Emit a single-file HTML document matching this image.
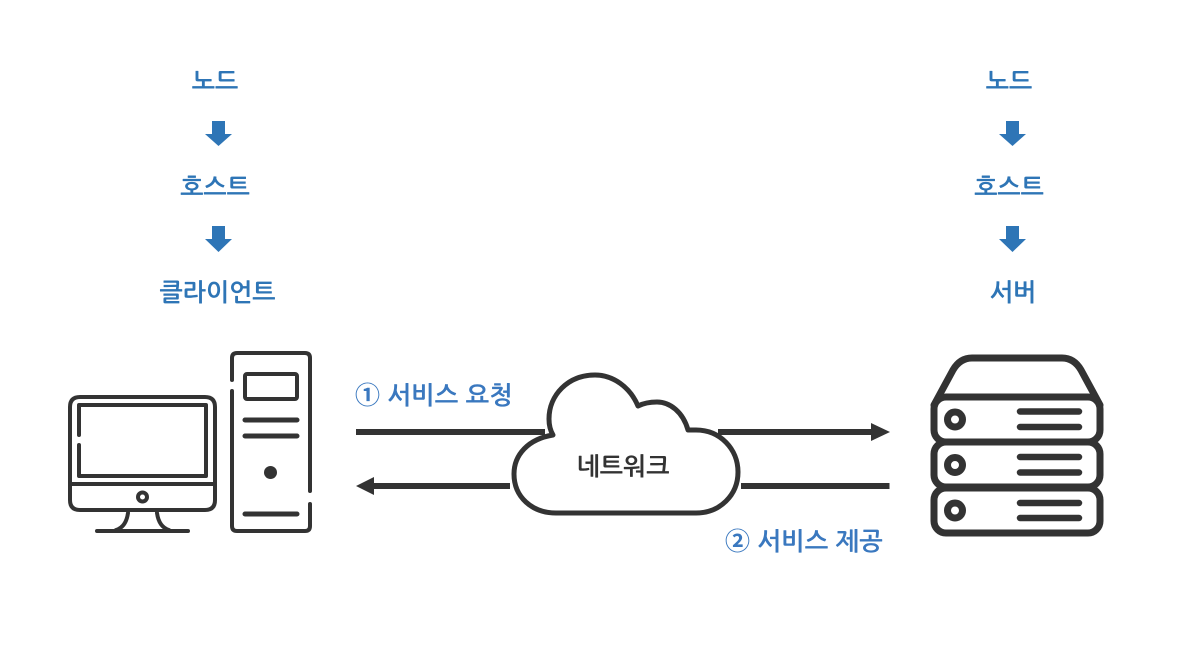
<!DOCTYPE html>
<html lang="ko"><head><meta charset="utf-8"><title>노드 호스트 클라이언트 서버</title>
<style>
html,body{margin:0;padding:0;background:#fff;width:1188px;height:654px;overflow:hidden}
svg{display:block}
text{font-family:"Liberation Sans","NanumGothic","Noto Sans CJK KR",sans-serif}
.b{fill:#2e75b6;font-size:24.700px;text-anchor:middle;font-weight:bold}
.c{fill:#3a78bf;font-size:25px;font-weight:bold;letter-spacing:.2px}
.s{fill:none;stroke:#333;stroke-linecap:round;stroke-linejoin:round}
</style></head><body>
<svg width="1188" height="654" viewBox="0 0 1188 654" xmlns="http://www.w3.org/2000/svg">
<rect width="1188" height="654" fill="#fff"/>
<g class="b">
<text x="215" y="90">노드</text><text x="215" y="196">호스트</text><text x="217.500" y="301">클라이언트</text>
<text x="1009" y="90">노드</text><text x="1009" y="196">호스트</text><text x="1013" y="301">서버</text>
</g>
<g fill="#2e75b6">
<path d="M212 121H225V134H232L218.500 146L205 134H212Z"/>
<path d="M212 226H225V239H232L218.500 252L205 239H212Z"/>
<path d="M1006 121H1019V134H1026L1012.500 146L999 134H1006Z"/>
<path d="M1006 226H1019V239H1026L1012.500 252L999 239H1006Z"/>
</g>
<g class="s" stroke-width="4">
<path d="M80 397H205Q215 397 215 407V500Q215 510 205 510H80Q70 510 70 500V407Q70 397 80 397Z"/>
<path d="M70 484H215"/>
<path d="M79 435V405H206V476H79V445"/>
<circle cx="142.500" cy="497" r="4.500"/>
<path d="M128 513Q126 527 116 530M157 513Q159 527 169 530"/>
<path d="M97 531H188"/>
<path d="M232 380V358Q232 353 237 353H305Q310 353 310 358V491M310 504V526Q310 531 305 531H237Q232 531 232 526V391"/>
<rect x="245" y="374" width="52" height="25" rx="2"/>
</g>
<g class="s" stroke-width="5">
<path d="M245 420H297M245 436H297M245 514H297"/>
</g>
<circle cx="270.500" cy="472.500" r="6.500" fill="#333"/>
<g class="s" stroke-width="7">
<path d="M934 405L953 370Q960 358 972 358H1062Q1074 358 1081 370L1100 405"/>
<rect x="934" y="397" width="166" height="45" rx="12"/>
<rect x="934" y="442" width="166" height="45" rx="12"/>
<rect x="934" y="488" width="166" height="45" rx="12"/>
<circle cx="955" cy="419.500" r="7.500"/><circle cx="955" cy="465" r="7.500"/><circle cx="955" cy="510.500" r="7.500"/>
</g>
<g class="s" stroke-width="6.500">
<path d="M1020 411.500H1079M1020 427H1079M1020 457H1079M1020 472.500H1079M1020 503H1079M1020 518H1079"/>
</g>
<g fill="#333">
<rect x="356" y="429" width="189" height="6"/>
<rect x="718" y="429" width="155" height="6"/>
<path d="M871 423L890 432L871 441Z"/>
<rect x="372" y="483" width="138" height="6"/>
<path d="M374 477L356 486L374 495Z"/>
<rect x="741" y="483" width="148.500" height="6"/>
</g>
<path d="M553 435C528 439 514 455 514 474C514 497 532 513 556 513H696C720 513 738 495 738 472C738 449 720 430 696 430H688C683 412 670 402 657 402C650 402 644 403 638 406C630 387 613 375 595 375C568 375 549 395 549 419C549 425 550 430 553 435Z" fill="#fff" stroke="#333" stroke-width="5" stroke-linejoin="round"/>
<text x="623" y="475" text-anchor="middle" font-size="24.700" font-weight="bold" fill="#333">네트워크</text>
<text class="c" x="355" y="404">① 서비스 요청</text>
<text class="c" x="725" y="550">② 서비스 제공</text>
</svg>
</body></html>
